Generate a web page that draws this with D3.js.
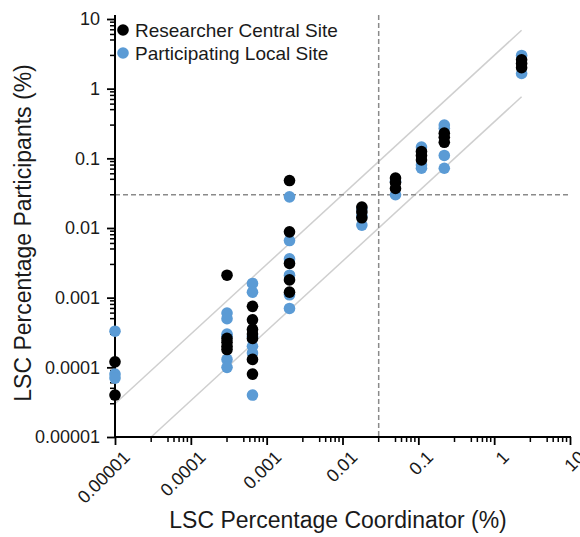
<!DOCTYPE html>
<html><head><meta charset="utf-8">
<script src="https://cdn.jsdelivr.net/npm/d3@7"></script>
<style>body{margin:0;background:#fff}svg{display:block}text{font-family:"Liberation Sans",Arial,sans-serif;fill:#1a1a1a}</style>
</head><body><svg id="c" width="580" height="537"></svg>
<script>
// x positions (LSC Percentage Coordinator, %) of each column
const columns = [0.00001, 0.0003, 0.00065, 0.002, 0.018, 0.05, 0.11, 0.22, 2.3];
// Researcher Central Site values per column
const centralValues = [
  [0.00012, 0.00004],
  [0.0021, 0.00026, 0.00023, 0.0002, 0.00018],
  [0.00075, 0.00048, 0.00035, 0.0003, 0.00026, 0.00013, 0.00008],
  [0.048, 0.0088, 0.0031, 0.0018, 0.0012],
  [0.02, 0.017, 0.014],
  [0.052, 0.045, 0.037],
  [0.125, 0.11, 0.095],
  [0.23, 0.2, 0.17],
  [2.6, 2.3, 2.0]
];
// Participating Local Site values per column
const localValues = [
  [0.00033, 0.00008, 0.00007],
  [0.0006, 0.0005, 0.0003, 0.00028, 0.00013, 0.0001],
  [0.0016, 0.0012, 0.00028, 0.0002, 0.00016, 0.00004],
  [0.028, 0.0066, 0.0036, 0.0021, 0.0011, 0.0007],
  [0.019, 0.015, 0.011],
  [0.047, 0.03],
  [0.145, 0.08, 0.072],
  [0.3, 0.27, 0.11, 0.072],
  [3.0, 1.65]
];
const seriesNames = ["Researcher Central Site", "Participating Local Site"];
const seriesColors = ["#000000", "#5b9bd5"];
const tickValues = [0.00001, 0.0001, 0.001, 0.01, 0.1, 1, 10];
const tickLabels = ["0.00001", "0.0001", "0.001", "0.01", "0.1", "1", "10"];
const thresholdX = 0.03, thresholdY = 0.03;
const bandFactors = [3, 1/3];
const lineEndX = 2.3;

const svg = d3.select("#c");
const x = d3.scaleLog().domain([1e-5, 10]).range([115, 570]);
const y = d3.scaleLog().domain([1e-5, 10]).range([437, 19]);

// minor ticks
const minorMult = [3,5,6,7,8,9];
const minors = [];
tickValues.slice(0, -1).forEach(t => minorMult.forEach(m => minors.push(t * m)));

// diagonal guide lines
const lo = 1e-5;
bandFactors.forEach(f => {
  const x0 = Math.max(lo, lo / f);
  svg.append("line")
    .attr("x1", x(x0)).attr("y1", y(x0 * f))
    .attr("x2", x(lineEndX)).attr("y2", y(lineEndX * f))
    .attr("stroke", "#cfcfcf").attr("stroke-width", 1.5);
});

// dashed thresholds
svg.append("line").attr("x1", x(thresholdX)).attr("x2", x(thresholdX))
  .attr("y1", y(10) - 4).attr("y2", y(1e-5))
  .attr("stroke", "#8a8a8a").attr("stroke-width", 1.5).attr("stroke-dasharray", "5,3");
svg.append("line").attr("x1", x(1e-5)).attr("x2", x(10))
  .attr("y1", y(thresholdY)).attr("y2", y(thresholdY))
  .attr("stroke", "#8a8a8a").attr("stroke-width", 1.5).attr("stroke-dasharray", "5,3");

// axes
const yAxis = d3.axisLeft(y).tickValues(tickValues).tickFormat((d, i) => tickLabels[i]).tickSize(8).tickPadding(7);
const yg = svg.append("g").attr("transform", `translate(${x(1e-5)},0)`).call(yAxis);
yg.append("g").selectAll("line").data(minors).join("line")
  .attr("x1", 0).attr("x2", -5).attr("y1", d => y(d)).attr("y2", d => y(d))
  .attr("stroke", "#000").attr("stroke-width", 1.5);
yg.select(".domain").attr("d", `M0,${y(10)-4}V${y(1e-5)}`).attr("stroke-width", 2);
yg.selectAll(".tick line").attr("stroke-width", 1.8);
yg.selectAll(".tick text").style("font-size", "18px").attr("fill", "#1a1a1a");

const xAxis = d3.axisBottom(x).tickValues(tickValues).tickFormat((d, i) => tickLabels[i]).tickSize(8);
const xg = svg.append("g").attr("transform", `translate(0,${y(1e-5)})`).call(xAxis);
xg.append("g").selectAll("line").data(minors).join("line")
  .attr("x1", d => x(d)).attr("x2", d => x(d)).attr("y1", 0).attr("y2", 5)
  .attr("stroke", "#000").attr("stroke-width", 1.5);
xg.select(".domain").attr("d", `M${x(1e-5)-1},0H${x(10)+1}`).attr("stroke-width", 2);
xg.selectAll(".tick line").attr("stroke-width", 1.8);
xg.selectAll(".tick text").style("font-size", "18px").attr("fill", "#1a1a1a")
  .attr("text-anchor", "end").attr("dy", "0.35em")
  .attr("transform", "translate(11,17) rotate(-45)").attr("y", 0).attr("x", 0);

// points: local first, then central on top
function pts(vals) {
  const out = [];
  vals.forEach((arr, i) => arr.forEach(v => out.push({x: columns[i], y: v})));
  return out;
}
svg.append("g").selectAll("circle").data(pts(localValues)).join("circle")
  .attr("cx", d => x(d.x)).attr("cy", d => y(d.y)).attr("r", 5.8).attr("fill", seriesColors[1]);
svg.append("g").selectAll("circle").data(pts(centralValues)).join("circle")
  .attr("cx", d => x(d.x)).attr("cy", d => y(d.y)).attr("r", 5.8).attr("fill", seriesColors[0]);

// legend
seriesNames.forEach((n, i) => {
  const g = svg.append("g").attr("transform", `translate(123,${30 + i * 23})`);
  g.append("circle").attr("r", 5.8).attr("fill", seriesColors[i]);
  g.append("text").attr("x", 12).attr("dy", "0.35em").style("font-size", "19px").text(n);
});

// axis titles
svg.append("text").attr("x", 338).attr("y", 528).attr("text-anchor", "middle")
  .style("font-size", "23px").text("LSC Percentage Coordinator (%)");
svg.append("text").attr("transform", "translate(31,233) rotate(-90)").attr("text-anchor", "middle")
  .style("font-size", "23px").text("LSC Percentage Participants (%)");
</script></body></html>
